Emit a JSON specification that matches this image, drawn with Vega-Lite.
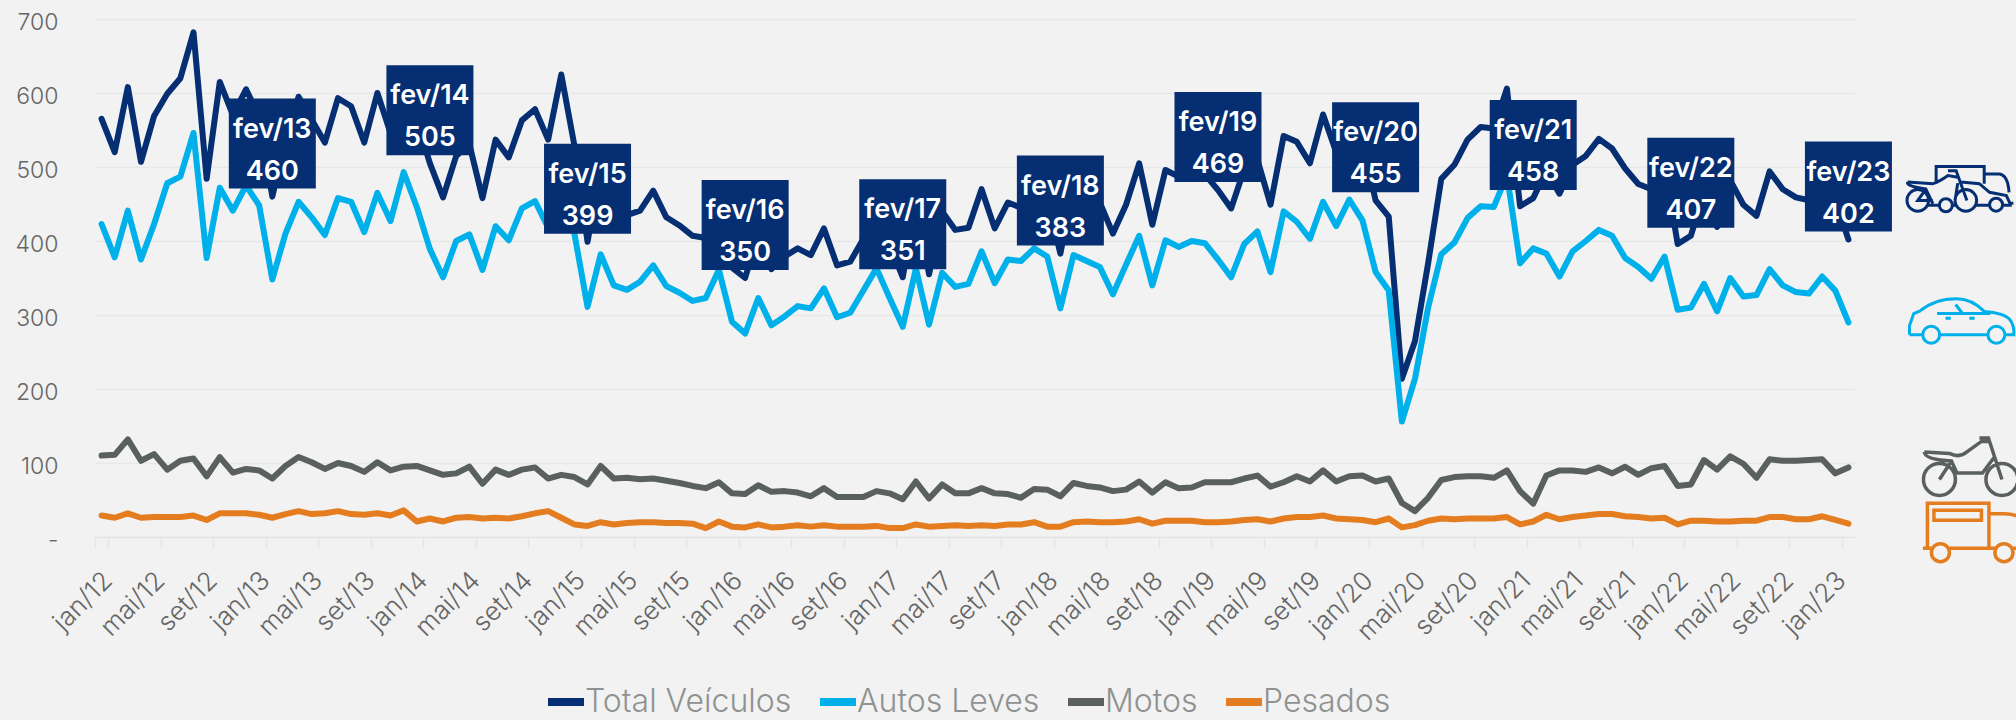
{"$schema":"https://vega.github.io/schema/vega-lite/v6.json","width":1760,"height":518,"autosize":{"type":"none"},"padding":{"left":95,"top":19,"right":161,"bottom":183},"background":"#f2f2f2",
"data":{"values":[
{"m":"jan/12","Total Veículos":565,"Autos Leves":423,"Motos":110,"Pesados":29},
{"m":"fev/12","Total Veículos":520,"Autos Leves":378,"Motos":111,"Pesados":26},
{"m":"mar/12","Total Veículos":608,"Autos Leves":441,"Motos":132,"Pesados":32},
{"m":"abr/12","Total Veículos":507,"Autos Leves":375,"Motos":103,"Pesados":26},
{"m":"mai/12","Total Veículos":569,"Autos Leves":423,"Motos":112,"Pesados":27},
{"m":"jun/12","Total Veículos":599,"Autos Leves":478,"Motos":91,"Pesados":27},
{"m":"jul/12","Total Veículos":620,"Autos Leves":487,"Motos":103,"Pesados":27},
{"m":"ago/12","Total Veículos":682,"Autos Leves":546,"Motos":106,"Pesados":29},
{"m":"set/12","Total Veículos":484,"Autos Leves":377,"Motos":82,"Pesados":23},
{"m":"out/12","Total Veículos":615,"Autos Leves":472,"Motos":108,"Pesados":32},
{"m":"nov/12","Total Veículos":570,"Autos Leves":441,"Motos":87,"Pesados":32},
{"m":"dez/12","Total Veículos":605,"Autos Leves":475,"Motos":92,"Pesados":32},
{"m":"jan/13","Total Veículos":568,"Autos Leves":448,"Motos":90,"Pesados":30},
{"m":"fev/13","Total Veículos":460,"Autos Leves":348,"Motos":79,"Pesados":26},
{"m":"mar/13","Total Veículos":537,"Autos Leves":410,"Motos":96,"Pesados":31},
{"m":"abr/13","Total Veículos":595,"Autos Leves":453,"Motos":108,"Pesados":35},
{"m":"mai/13","Total Veículos":564,"Autos Leves":432,"Motos":101,"Pesados":31},
{"m":"jun/13","Total Veículos":533,"Autos Leves":408,"Motos":92,"Pesados":32},
{"m":"jul/13","Total Veículos":593,"Autos Leves":458,"Motos":100,"Pesados":35},
{"m":"ago/13","Total Veículos":582,"Autos Leves":453,"Motos":96,"Pesados":31},
{"m":"set/13","Total Veículos":533,"Autos Leves":412,"Motos":88,"Pesados":30},
{"m":"out/13","Total Veículos":600,"Autos Leves":465,"Motos":101,"Pesados":32},
{"m":"nov/13","Total Veículos":546,"Autos Leves":427,"Motos":90,"Pesados":29},
{"m":"dez/13","Total Veículos":624,"Autos Leves":493,"Motos":95,"Pesados":36},
{"m":"jan/14","Total Veículos":563,"Autos Leves":446,"Motos":96,"Pesados":21},
{"m":"fev/14","Total Veículos":505,"Autos Leves":389,"Motos":90,"Pesados":25},
{"m":"mar/14","Total Veículos":459,"Autos Leves":351,"Motos":84,"Pesados":21},
{"m":"abr/14","Total Veículos":515,"Autos Leves":400,"Motos":86,"Pesados":26},
{"m":"mai/14","Total Veículos":531,"Autos Leves":409,"Motos":95,"Pesados":27},
{"m":"jun/14","Total Veículos":458,"Autos Leves":361,"Motos":72,"Pesados":25},
{"m":"jul/14","Total Veículos":537,"Autos Leves":420,"Motos":91,"Pesados":26},
{"m":"ago/14","Total Veículos":513,"Autos Leves":401,"Motos":84,"Pesados":25},
{"m":"set/14","Total Veículos":563,"Autos Leves":444,"Motos":91,"Pesados":28},
{"m":"out/14","Total Veículos":578,"Autos Leves":454,"Motos":94,"Pesados":32},
{"m":"nov/14","Total Veículos":537,"Autos Leves":418,"Motos":79,"Pesados":35},
{"m":"dez/14","Total Veículos":625,"Autos Leves":505,"Motos":84,"Pesados":26},
{"m":"jan/15","Total Veículos":529,"Autos Leves":410,"Motos":81,"Pesados":17},
{"m":"fev/15","Total Veículos":399,"Autos Leves":311,"Motos":71,"Pesados":15},
{"m":"mar/15","Total Veículos":498,"Autos Leves":382,"Motos":96,"Pesados":20},
{"m":"abr/15","Total Veículos":436,"Autos Leves":340,"Motos":79,"Pesados":17},
{"m":"mai/15","Total Veículos":435,"Autos Leves":334,"Motos":80,"Pesados":19},
{"m":"jun/15","Total Veículos":441,"Autos Leves":345,"Motos":78,"Pesados":20},
{"m":"jul/15","Total Veículos":468,"Autos Leves":367,"Motos":79,"Pesados":20},
{"m":"ago/15","Total Veículos":432,"Autos Leves":339,"Motos":76,"Pesados":19},
{"m":"set/15","Total Veículos":421,"Autos Leves":330,"Motos":73,"Pesados":19},
{"m":"out/15","Total Veículos":407,"Autos Leves":319,"Motos":69,"Pesados":18},
{"m":"nov/15","Total Veículos":404,"Autos Leves":323,"Motos":66,"Pesados":12},
{"m":"dez/15","Total Veículos":456,"Autos Leves":361,"Motos":74,"Pesados":21},
{"m":"jan/16","Total Veículos":364,"Autos Leves":291,"Motos":59,"Pesados":14},
{"m":"fev/16","Total Veículos":350,"Autos Leves":275,"Motos":58,"Pesados":13},
{"m":"mar/16","Total Veículos":410,"Autos Leves":323,"Motos":70,"Pesados":17},
{"m":"abr/16","Total Veículos":362,"Autos Leves":286,"Motos":61,"Pesados":13},
{"m":"mai/16","Total Veículos":379,"Autos Leves":298,"Motos":62,"Pesados":14},
{"m":"jun/16","Total Veículos":390,"Autos Leves":312,"Motos":60,"Pesados":16},
{"m":"jul/16","Total Veículos":381,"Autos Leves":309,"Motos":55,"Pesados":14},
{"m":"ago/16","Total Veículos":417,"Autos Leves":336,"Motos":66,"Pesados":16},
{"m":"set/16","Total Veículos":367,"Autos Leves":297,"Motos":54,"Pesados":14},
{"m":"out/16","Total Veículos":372,"Autos Leves":303,"Motos":54,"Pesados":14},
{"m":"nov/16","Total Veículos":403,"Autos Leves":333,"Motos":54,"Pesados":14},
{"m":"dez/16","Total Veículos":440,"Autos Leves":363,"Motos":62,"Pesados":15},
{"m":"jan/17","Total Veículos":395,"Autos Leves":323,"Motos":59,"Pesados":12},
{"m":"fev/17","Total Veículos":351,"Autos Leves":284,"Motos":51,"Pesados":12},
{"m":"mar/17","Total Veículos":455,"Autos Leves":363,"Motos":75,"Pesados":17},
{"m":"abr/17","Total Veículos":355,"Autos Leves":287,"Motos":52,"Pesados":14},
{"m":"mai/17","Total Veículos":440,"Autos Leves":357,"Motos":71,"Pesados":15},
{"m":"jun/17","Total Veículos":415,"Autos Leves":338,"Motos":59,"Pesados":16},
{"m":"jul/17","Total Veículos":418,"Autos Leves":342,"Motos":59,"Pesados":15},
{"m":"ago/17","Total Veículos":470,"Autos Leves":386,"Motos":66,"Pesados":16},
{"m":"set/17","Total Veículos":417,"Autos Leves":343,"Motos":59,"Pesados":15},
{"m":"out/17","Total Veículos":452,"Autos Leves":375,"Motos":58,"Pesados":17},
{"m":"nov/17","Total Veículos":445,"Autos Leves":373,"Motos":53,"Pesados":17},
{"m":"dez/17","Total Veículos":475,"Autos Leves":390,"Motos":65,"Pesados":20},
{"m":"jan/18","Total Veículos":457,"Autos Leves":379,"Motos":64,"Pesados":14},
{"m":"fev/18","Total Veículos":383,"Autos Leves":309,"Motos":55,"Pesados":14},
{"m":"mar/18","Total Veículos":474,"Autos Leves":381,"Motos":73,"Pesados":20},
{"m":"abr/18","Total Veículos":463,"Autos Leves":373,"Motos":69,"Pesados":21},
{"m":"mai/18","Total Veículos":452,"Autos Leves":365,"Motos":67,"Pesados":20},
{"m":"jun/18","Total Veículos":410,"Autos Leves":328,"Motos":62,"Pesados":20},
{"m":"jul/18","Total Veículos":449,"Autos Leves":368,"Motos":64,"Pesados":21},
{"m":"ago/18","Total Veículos":505,"Autos Leves":407,"Motos":75,"Pesados":24},
{"m":"set/18","Total Veículos":422,"Autos Leves":340,"Motos":60,"Pesados":18},
{"m":"out/18","Total Veículos":496,"Autos Leves":401,"Motos":74,"Pesados":22},
{"m":"nov/18","Total Veículos":487,"Autos Leves":392,"Motos":66,"Pesados":22},
{"m":"dez/18","Total Veículos":490,"Autos Leves":400,"Motos":67,"Pesados":22},
{"m":"jan/19","Total Veículos":490,"Autos Leves":397,"Motos":74,"Pesados":20},
{"m":"fev/19","Total Veículos":469,"Autos Leves":375,"Motos":74,"Pesados":20},
{"m":"mar/19","Total Veículos":444,"Autos Leves":351,"Motos":74,"Pesados":21},
{"m":"abr/19","Total Veículos":497,"Autos Leves":396,"Motos":79,"Pesados":23},
{"m":"mai/19","Total Veículos":510,"Autos Leves":413,"Motos":83,"Pesados":24},
{"m":"jun/19","Total Veículos":449,"Autos Leves":358,"Motos":68,"Pesados":21},
{"m":"jul/19","Total Veículos":542,"Autos Leves":440,"Motos":74,"Pesados":25},
{"m":"ago/19","Total Veículos":534,"Autos Leves":426,"Motos":82,"Pesados":27},
{"m":"set/19","Total Veículos":505,"Autos Leves":403,"Motos":75,"Pesados":27},
{"m":"out/19","Total Veículos":571,"Autos Leves":453,"Motos":90,"Pesados":29},
{"m":"nov/19","Total Veículos":520,"Autos Leves":420,"Motos":75,"Pesados":25},
{"m":"dez/19","Total Veículos":562,"Autos Leves":456,"Motos":82,"Pesados":24},
{"m":"jan/20","Total Veículos":534,"Autos Leves":428,"Motos":83,"Pesados":23},
{"m":"fev/20","Total Veículos":455,"Autos Leves":358,"Motos":75,"Pesados":20},
{"m":"mar/20","Total Veículos":433,"Autos Leves":333,"Motos":79,"Pesados":25},
{"m":"abr/20","Total Veículos":214,"Autos Leves":156,"Motos":46,"Pesados":13},
{"m":"mai/20","Total Veículos":265,"Autos Leves":214,"Motos":35,"Pesados":16},
{"m":"jun/20","Total Veículos":370,"Autos Leves":310,"Motos":53,"Pesados":22},
{"m":"jul/20","Total Veículos":484,"Autos Leves":382,"Motos":77,"Pesados":25},
{"m":"ago/20","Total Veículos":503,"Autos Leves":398,"Motos":81,"Pesados":24},
{"m":"set/20","Total Veículos":537,"Autos Leves":431,"Motos":82,"Pesados":25},
{"m":"out/20","Total Veículos":554,"Autos Leves":447,"Motos":82,"Pesados":25},
{"m":"nov/20","Total Veículos":552,"Autos Leves":446,"Motos":80,"Pesados":25},
{"m":"dez/20","Total Veículos":606,"Autos Leves":489,"Motos":90,"Pesados":27},
{"m":"jan/21","Total Veículos":447,"Autos Leves":370,"Motos":62,"Pesados":17},
{"m":"fev/21","Total Veículos":458,"Autos Leves":390,"Motos":45,"Pesados":21},
{"m":"mar/21","Total Veículos":495,"Autos Leves":383,"Motos":83,"Pesados":30},
{"m":"abr/21","Total Veículos":464,"Autos Leves":352,"Motos":90,"Pesados":24},
{"m":"mai/21","Total Veículos":503,"Autos Leves":386,"Motos":90,"Pesados":27},
{"m":"jun/21","Total Veículos":515,"Autos Leves":400,"Motos":88,"Pesados":29},
{"m":"jul/21","Total Veículos":538,"Autos Leves":415,"Motos":94,"Pesados":31},
{"m":"ago/21","Total Veículos":525,"Autos Leves":407,"Motos":86,"Pesados":31},
{"m":"set/21","Total Veículos":498,"Autos Leves":377,"Motos":95,"Pesados":28},
{"m":"out/21","Total Veículos":477,"Autos Leves":365,"Motos":84,"Pesados":27},
{"m":"nov/21","Total Veículos":470,"Autos Leves":349,"Motos":93,"Pesados":25},
{"m":"dez/21","Total Veículos":502,"Autos Leves":379,"Motos":96,"Pesados":26},
{"m":"jan/22","Total Veículos":396,"Autos Leves":307,"Motos":69,"Pesados":17},
{"m":"fev/22","Total Veículos":407,"Autos Leves":310,"Motos":71,"Pesados":22},
{"m":"mar/22","Total Veículos":465,"Autos Leves":342,"Motos":104,"Pesados":22},
{"m":"abr/22","Total Veículos":419,"Autos Leves":305,"Motos":91,"Pesados":21},
{"m":"mai/22","Total Veículos":482,"Autos Leves":350,"Motos":109,"Pesados":21},
{"m":"jun/22","Total Veículos":449,"Autos Leves":325,"Motos":99,"Pesados":22},
{"m":"jul/22","Total Veículos":434,"Autos Leves":327,"Motos":80,"Pesados":22},
{"m":"ago/22","Total Veículos":494,"Autos Leves":362,"Motos":105,"Pesados":27},
{"m":"set/22","Total Veículos":470,"Autos Leves":340,"Motos":103,"Pesados":27},
{"m":"out/22","Total Veículos":459,"Autos Leves":331,"Motos":103,"Pesados":24},
{"m":"nov/22","Total Veículos":455,"Autos Leves":329,"Motos":104,"Pesados":24},
{"m":"dez/22","Total Veículos":483,"Autos Leves":352,"Motos":105,"Pesados":28},
{"m":"jan/23","Total Veículos":455,"Autos Leves":333,"Motos":86,"Pesados":23},
{"m":"fev/23","Total Veículos":402,"Autos Leves":290,"Motos":94,"Pesados":18}
]},
"encoding":{
"x":{"field":"m","type":"nominal","scale":{"type":"band","paddingInner":0,"paddingOuter":0,"domain":["jan/12","fev/12","mar/12","abr/12","mai/12","jun/12","jul/12","ago/12","set/12","out/12","nov/12","dez/12","jan/13","fev/13","mar/13","abr/13","mai/13","jun/13","jul/13","ago/13","set/13","out/13","nov/13","dez/13","jan/14","fev/14","mar/14","abr/14","mai/14","jun/14","jul/14","ago/14","set/14","out/14","nov/14","dez/14","jan/15","fev/15","mar/15","abr/15","mai/15","jun/15","jul/15","ago/15","set/15","out/15","nov/15","dez/15","jan/16","fev/16","mar/16","abr/16","mai/16","jun/16","jul/16","ago/16","set/16","out/16","nov/16","dez/16","jan/17","fev/17","mar/17","abr/17","mai/17","jun/17","jul/17","ago/17","set/17","out/17","nov/17","dez/17","jan/18","fev/18","mar/18","abr/18","mai/18","jun/18","jul/18","ago/18","set/18","out/18","nov/18","dez/18","jan/19","fev/19","mar/19","abr/19","mai/19","jun/19","jul/19","ago/19","set/19","out/19","nov/19","dez/19","jan/20","fev/20","mar/20","abr/20","mai/20","jun/20","jul/20","ago/20","set/20","out/20","nov/20","dez/20","jan/21","fev/21","mar/21","abr/21","mai/21","jun/21","jul/21","ago/21","set/21","out/21","nov/21","dez/21","jan/22","fev/22","mar/22","abr/22","mai/22","jun/22","jul/22","ago/22","set/22","out/22","nov/22","dez/22","jan/23","fev/23"]},
"axis":{"title":null,"values":["jan/12","mai/12","set/12","jan/13","mai/13","set/13","jan/14","mai/14","set/14","jan/15","mai/15","set/15","jan/16","mai/16","set/16","jan/17","mai/17","set/17","jan/18","mai/18","set/18","jan/19","mai/19","set/19","jan/20","mai/20","set/20","jan/21","mai/21","set/21","jan/22","mai/22","set/22","jan/23"],"tickBand":"extent","tickColor":"#e6e6e6","tickWidth":1.5,"tickSize":11,"domain":true,"domainColor":"#e6e6e6","domainWidth":1.5,"labelAngle":-45,"labelAlign":"right","labelBaseline":"middle","labelFont":"Inter","labelFontWeight":300,"labelFontSize":26,"labelColor":"#666666","labelPadding":28,"labelOffset":6,"labelOverlap":false,"grid":false}}
},
"layer":[
{"transform":[{"window":[{"op":"row_number","as":"ordem"}]},{"fold":["Total Veículos","Autos Leves","Motos","Pesados"],"as":["Série","Valor"]}],
"mark":{"type":"line","strokeWidth":6,"strokeJoin":"round","strokeCap":"round","clip":false},
"encoding":{
"y":{"field":"Valor","type":"quantitative","scale":{"domain":[0,700],"nice":false},"axis":{"title":null,"values":[0,100,200,300,400,500,600,700],"labelExpr":"datum.value==0?'-\u00a0\u00a0':datum.label","grid":true,"gridColor":"#e8e8e8","gridWidth":1.5,"domain":false,"ticks":false,"labelFont":"Inter","labelFontWeight":300,"labelFontSize":23,"labelColor":"#666666","labelPadding":37,"labelOffset":3}},
"color":{"field":"Série","type":"nominal","scale":{"domain":["Total Veículos","Autos Leves","Motos","Pesados"],"range":["#052f72","#00b0ea","#5a605f","#e37d20"]},"legend":{"title":null,"orient":"none","direction":"horizontal","legendX":449,"legendY":661,"symbolType":"stroke","symbolSize":1296,"symbolStrokeWidth":8,"labelFont":"Inter","labelFontWeight":300,"labelFontSize":32,"labelLimit":400,"labelColor":"#8f9290","labelOffset":-3,"columnPadding":12,"symbolOffset":0}},
"order":{"field":"ordem","type":"quantitative"}}},
{"transform":[{"filter":{"field":"m","oneOf":["fev/13","fev/14","fev/15","fev/16","fev/17","fev/18","fev/19","fev/20","fev/21","fev/22","fev/23"]}}],
"layer":[
{"mark":{"type":"rect","width":87,"height":90,"color":"#052f72","yOffset":-53},"encoding":{"y":{"field":"Total Veículos","type":"quantitative"}}},
{"mark":{"type":"text","color":"#ffffff","font":"Inter","fontWeight":600,"fontSize":27,"baseline":"middle","yOffset":-67},"encoding":{"y":{"field":"Total Veículos","type":"quantitative"},"text":{"field":"m"}}},
{"mark":{"type":"text","color":"#ffffff","font":"Inter","fontWeight":600,"fontSize":27,"baseline":"middle","yOffset":-25},"encoding":{"y":{"field":"Total Veículos","type":"quantitative"},"text":{"field":"Total Veículos"}}}
]},
{"transform":[{"filter":{"field":"m","equal":"fev/23"}}],
"layer":[
{"mark":{"type":"point","filled":false,"clip":false,"stroke":"#052f72","strokeWidth":3,"size":11664,"opacity":1,"xOffset":112,"yOffset":-51,"shape":"M-0.45 -0.12 L-0.45 -0.41 L0.44 -0.41 L0.44 -0.09 M0.44 -0.27 L0.72 -0.27 Q0.88 -0.25 0.9 0.07 M-0.98 -0.12 L-0.51 -0.09 Q-0.4 -0.12 -0.23 -0.24 L-0.05 -0.21 M-0.23 -0.33 L-0.08 -0.33 L0.12 0.22 M-0.98 -0.12 Q-1 -0.04 -0.64 0.01 L-0.51 0.28 M-0.64 0.01 L-0.79 0.22 L-0.51 0.22 M0.01 -0.12 L0.35 -0.09 L0.54 0.07 L0.85 0.13 L0.92 0.28 L0.98 0.27 M-0.59 0.31 L-0.39 0.31 M-0.15 0.31 L-0.1 0.31 M0.3 0.31 L0.54 0.31 M0.78 0.31 L0.95 0.31 M-0.05 -0.1 L-0.1 0.22 M-0.59 0.22 A0.2 0.2 0 1 1 -0.99 0.22 A0.2 0.2 0 1 1 -0.59 0.22 M-0.15 0.31 A0.12 0.12 0 1 1 -0.39 0.31 A0.12 0.12 0 1 1 -0.15 0.31 M0.3 0.22 A0.2 0.2 0 1 1 -0.1 0.22 A0.2 0.2 0 1 1 0.3 0.22 M0.78 0.3 A0.12 0.12 0 1 1 0.54 0.3 A0.12 0.12 0 1 1 0.78 0.3"},"encoding":{"y":{"field":"Total Veículos","type":"quantitative"}}},
{"mark":{"type":"point","filled":false,"clip":false,"stroke":"#00b0ea","strokeWidth":3,"size":11236,"opacity":1,"xOffset":113,"yOffset":-2,"shape":"M-0.98 0.27 L-0.98 0.1 L-0.9 -0.13 L-0.78 -0.18 Q-0.5 -0.41 -0.1 -0.41 Q0.2 -0.41 0.43 -0.17 Q0.8 -0.14 0.9 -0.03 Q1 0.08 0.99 0.27 L0.84 0.27 M0.48 0.27 L-0.39 0.27 M-0.75 0.27 L-0.98 0.27 M-0.41 0.27 A0.16 0.16 0 1 1 -0.73 0.27 A0.16 0.16 0 1 1 -0.41 0.27 M0.82 0.27 A0.16 0.16 0 1 1 0.5 0.27 A0.16 0.16 0 1 1 0.82 0.27 M-0.46 -0.13 L0.55 -0.13 M-0.11 -0.3 L0.02 -0.13 M-0.3 -0.04 L-0.2 -0.04 M0.15 -0.04 L0.25 -0.04"},"encoding":{"y":{"field":"Autos Leves","type":"quantitative"}}},
{"mark":{"type":"point","filled":false,"clip":false,"stroke":"#5a605f","strokeWidth":3.5,"size":10000,"opacity":1,"xOffset":121,"yOffset":-3,"shape":"M-0.9 -0.25 L-0.4 -0.22 Q-0.2 -0.12 -0.05 -0.25 L0.24 -0.46 L0.4 -0.46 M0.2 -0.53 L0.38 -0.53 L0.65 0.3 M-0.9 -0.25 Q-0.9 -0.1 -0.36 -0.07 L-0.25 0.17 L0.26 0.17 L0.5 -0.15 M-0.6 0.3 L-0.36 -0.07 M-0.28 0.3 A0.32 0.32 0 1 1 -0.92 0.3 A0.32 0.32 0 1 1 -0.28 0.3 M0.97 0.3 A0.32 0.32 0 1 1 0.33 0.3 A0.32 0.32 0 1 1 0.97 0.3"},"encoding":{"y":{"field":"Motos","type":"quantitative"}}},
{"mark":{"type":"point","filled":false,"clip":false,"stroke":"#e37d20","strokeWidth":3.5,"size":10000,"opacity":1,"xOffset":121,"yOffset":8,"shape":"M-0.84 0.33 L-0.84 -0.57 L0.39 -0.57 L0.39 0.33 M-0.93 0.33 L-0.76 0.33 M-0.4 0.33 L0.51 0.33 M0.87 0.33 L1.2 0.33 M-0.71 -0.43 L0.24 -0.43 L0.24 -0.23 L-0.71 -0.23 Z M0.39 -0.36 L0.7 -0.36 Q1.1 -0.36 1.2 0 L1.2 0.33 M0.87 0.42 A0.18 0.18 0 1 1 0.51 0.42 A0.18 0.18 0 1 1 0.87 0.42 M-0.4 0.42 A0.18 0.18 0 1 1 -0.76 0.42 A0.18 0.18 0 1 1 -0.4 0.42"},"encoding":{"y":{"field":"Pesados","type":"quantitative"}}}
]}
],
"config":{"view":{"stroke":null}}}
